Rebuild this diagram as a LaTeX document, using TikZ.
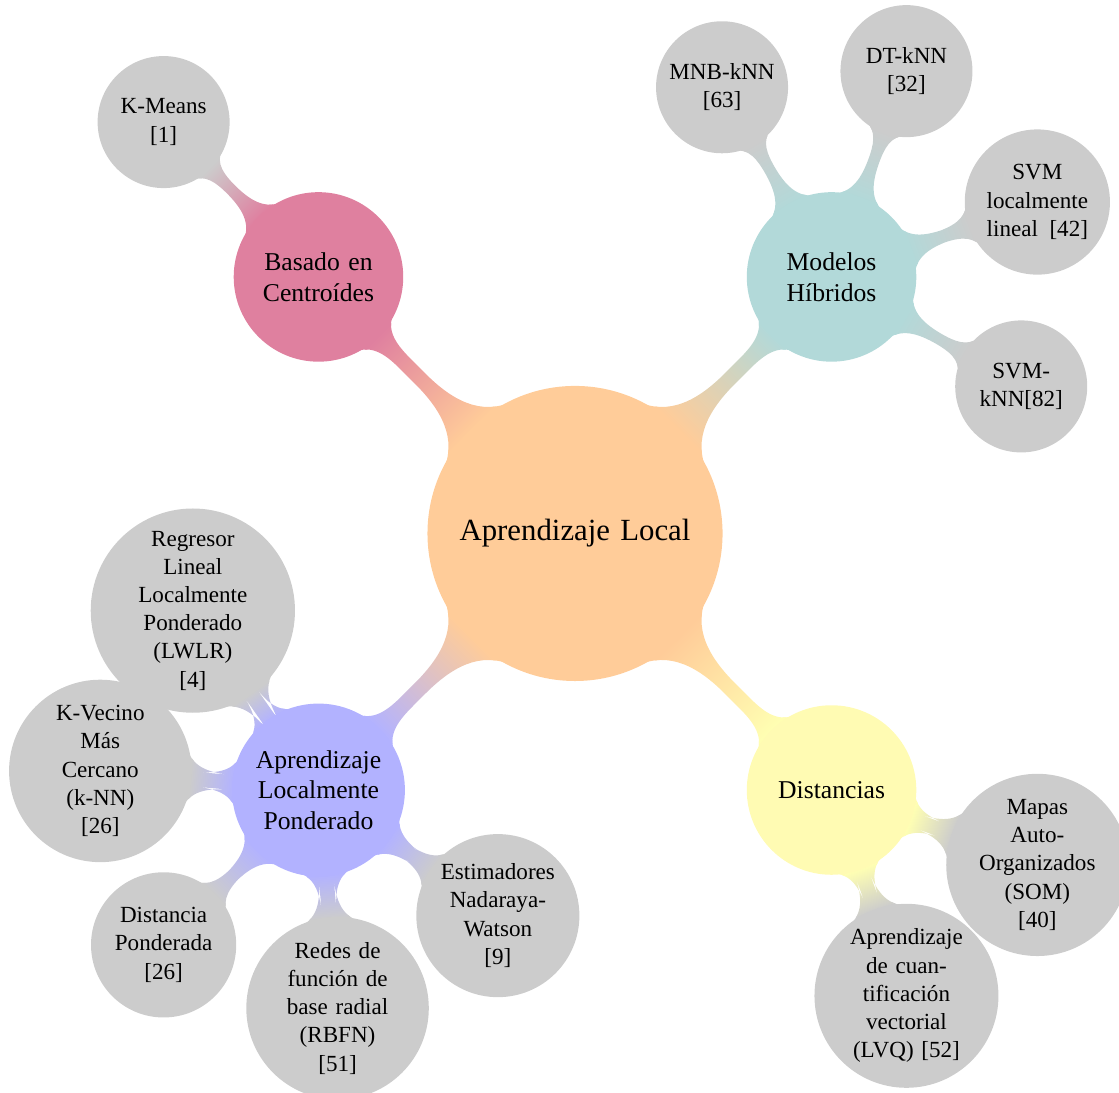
\documentclass[tikz,border=0pt]{standalone}
\usepackage{fontspec}
\setmainfont{Liberation Serif}
\usetikzlibrary{mindmap,backgrounds,calc}
\begin{document}
\begin{tikzpicture}[
  mindmap,
  rootc/.style={concept, concept color=orange!40, minimum size=4cm,
    text width=3.5cm, inner sep=0.5pt, font=\large},
  mainc/.style={concept, minimum size=2.28cm, text width=2cm,
    inner sep=0.5pt, font=\normalsize},
  leafc/.style={concept, concept color=black!20, minimum size=0pt,
    text width=1.6cm, inner sep=0.5pt, font=\small},
]
\useasboundingbox (-7.877,-7.664) rectangle (7.452,7.308);

% centre and first ring
\node[rootc] (root) at (0,0) {Aprendizaje Local};
\node[mainc, concept color=purple!50] (cent) at (135:4.97) {Basado en\\Centroídes};
\node[mainc, concept color=teal!30]   (hib)  at (45:4.97)  {Modelos\\Híbridos};
\node[mainc, concept color=blue!30]   (alp)  at (225:4.97) {Aprendizaje\\Localmente\\Ponderado};
\node[mainc, concept color=yellow!30] (dist) at (-45:4.97) {Distancias};

% leaves
\node[leafc] (kmeans) at ($(cent)+(135:3)$) {K-Means\\{[1]}};

\node[leafc] (mnb)  at ($(hib)+(120:3)$) {MNB-kNN\\{[63]}};
\node[leafc] (dt)   at ($(hib)+(70:3)$)  {DT-kNN\\{[32]}};
\node[leafc] (svml) at ($(hib)+(20:3)$)  {SVM\\localmente\\lineal\ \,[42]};
\node[leafc] (svmk) at ($(hib)+(-30:3)$) {SVM-\\kNN[82]};

\node[leafc] (lwlr)  at ($(alp)+(125:3)$) {Regresor\\Lineal\\Localmente\\Ponderado\\(LWLR)\\{[4]}};
\node[leafc] (knn)   at ($(alp)+(175:3)$) {K-Vecino\\Más\\Cercano\\(k-NN)\\{[26]}};
\node[leafc] (dpond) at ($(alp)+(225:3)$) {Distancia\\Ponderada\\{[26]}};
\node[leafc] (rbfn)  at ($(alp)+(275:3)$) {Redes de\\función de\\base radial\\(RBFN)\\{[51]}};
\node[leafc] (nw)    at ($(alp)+(325:3)$) {Estimadores\\Nadaraya-\\Watson\\{[9]}};

\node[leafc] (som) at ($(dist)+(-20:3)$) {Mapas\\Auto-\\Organizados\\(SOM)\\{[40]}};
\node[leafc] (lvq) at ($(dist)+(-70:3)$) {Aprendizaje\\de cuan-\\tificación\\vectorial\\(LVQ) [52]};

% connection bars behind the concepts
\begin{pgfonlayer}{background}
\path (root) to[circle connection bar switch color=from (orange!40) to (purple!50)] (cent);
\path (root) to[circle connection bar switch color=from (orange!40) to (teal!30)] (hib);
\path (root) to[circle connection bar switch color=from (orange!40) to (blue!30)] (alp);
\path (root) to[circle connection bar switch color=from (orange!40) to (yellow!30)] (dist);

\path (cent) to[circle connection bar switch color=from (purple!50) to (black!20)] (kmeans);

\path (hib) to[circle connection bar switch color=from (teal!30) to (black!20)] (mnb);
\path (hib) to[circle connection bar switch color=from (teal!30) to (black!20)] (dt);
\path (hib) to[circle connection bar switch color=from (teal!30) to (black!20)] (svml);
\path (hib) to[circle connection bar switch color=from (teal!30) to (black!20)] (svmk);

\path (alp) to[circle connection bar switch color=from (blue!30) to (black!20)] (lwlr);
\path (alp) to[circle connection bar switch color=from (blue!30) to (black!20)] (knn);
\path (alp) to[circle connection bar switch color=from (blue!30) to (black!20)] (dpond);
\path (alp) to[circle connection bar switch color=from (blue!30) to (black!20)] (rbfn);
\path (alp) to[circle connection bar switch color=from (blue!30) to (black!20)] (nw);

\path (dist) to[circle connection bar switch color=from (yellow!30) to (black!20)] (som);
\path (dist) to[circle connection bar switch color=from (yellow!30) to (black!20)] (lvq);
\end{pgfonlayer}
\end{tikzpicture}
\end{document}
